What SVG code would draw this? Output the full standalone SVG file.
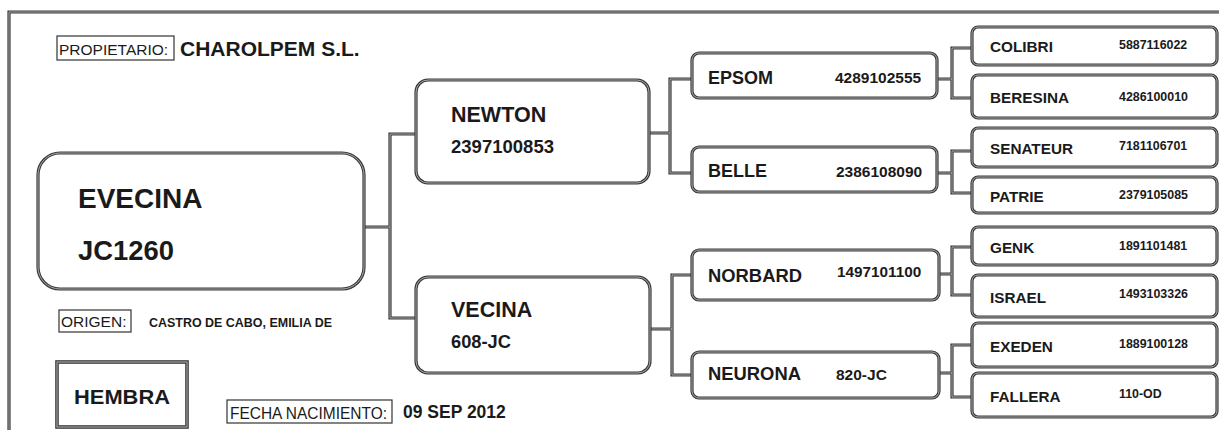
<svg xmlns="http://www.w3.org/2000/svg" xmlns:xlink="http://www.w3.org/1999/xlink" width="1219" height="430" viewBox="0 0 1219 430">
<style>
text{font-family:"Liberation Sans",Arial,sans-serif;fill:#1a1a1a}
.b{font-weight:bold}
.o{fill:#fff;stroke:#3a3a3a;stroke-width:3.2}
.i{fill:none;stroke:#b5b5b5;stroke-width:0.9}
.lab{fill:#fff;stroke:#333;stroke-width:1.2}
</style>
<defs>
<g id="cl" fill="none">
<path d="M9,430 V12 H1219"/>
<path d="M364,227 H390 M416,134 H390 V318 H416"/>
<path d="M649,133 H670 M692,79 H670 V173 H692"/>
<path d="M650,329 H672 M692,275 H672 V375 H692"/>
<path d="M937,79 H952 M972,48 H952 V98 H972"/>
<path d="M937,173 H952 M972,151 H952 V193 H972"/>
<path d="M939,274 H952 M972,247 H952 V295 H972"/>
<path d="M939,373 H952 M972,345 H952 V397 H972"/>
</g>
</defs>
<rect width="1219" height="430" fill="#fff"/>
<g id="connectors">
<use xlink:href="#cl" stroke="#3a3a3a" stroke-width="3.2"/>
<use xlink:href="#cl" stroke="#b5b5b5" stroke-width="0.9"/>
</g>
<g id="propietario">
<rect class="lab" x="57" y="36" width="117" height="24"/>
<text x="59" y="55" font-size="15.5">PROPIETARIO:</text>
<text class="b" x="180" y="56" font-size="21">CHAROLPEM S.L.</text>
</g>
<g id="evecina">
<rect class="o" x="38" y="153" width="326" height="136" rx="22"/>
<rect class="i" x="38" y="153" width="326" height="136" rx="22"/>
<text class="b" x="78" y="208" font-size="28">EVECINA</text>
<text class="b" x="78" y="260" font-size="28" textLength="96" lengthAdjust="spacingAndGlyphs">JC1260</text>
</g>
<g id="origen">
<rect class="lab" x="59" y="310" width="72" height="22"/>
<text x="61" y="327" font-size="15.5">ORIGEN:</text>
<text class="b" x="149" y="327" font-size="12.5" textLength="183" lengthAdjust="spacingAndGlyphs">CASTRO DE CABO, EMILIA DE</text>
</g>
<g id="hembra">
<rect x="57" y="362" width="130" height="65" fill="#fff" stroke="#3a3a3a" stroke-width="3.6"/>
<rect x="57" y="362" width="130" height="65" fill="none" stroke="#b5b5b5" stroke-width="1"/>
<text class="b" x="74" y="404" font-size="21" textLength="96" lengthAdjust="spacingAndGlyphs">HEMBRA</text>
</g>
<g id="fecha">
<rect class="lab" x="227" y="400" width="165" height="23"/>
<text x="230" y="419" font-size="16" textLength="157" lengthAdjust="spacingAndGlyphs">FECHA NACIMIENTO:</text>
<text class="b" x="403" y="418" font-size="17.5">09 SEP 2012</text>
</g>
<g id="newton">
<rect class="o" x="416" y="80" width="233" height="103" rx="12"/>
<rect class="i" x="416" y="80" width="233" height="103" rx="12"/>
<text class="b" x="451" y="122" font-size="21.5">NEWTON</text>
<text class="b" x="451" y="153" font-size="17.5" textLength="103" lengthAdjust="spacingAndGlyphs">2397100853</text>
</g>
<g id="vecina">
<rect class="o" x="416" y="277" width="234" height="96" rx="12"/>
<rect class="i" x="416" y="277" width="234" height="96" rx="12"/>
<text class="b" x="451" y="317" font-size="21.5">VECINA</text>
<text class="b" x="451" y="348" font-size="17.5" textLength="60" lengthAdjust="spacingAndGlyphs">608-JC</text>
</g>
<g id="epsom">
<rect class="o" x="692" y="53" width="245" height="45" rx="7"/>
<rect class="i" x="692" y="53" width="245" height="45" rx="7"/>
<text class="b" x="708" y="84" font-size="18">EPSOM</text>
<text class="b" x="835" y="83" font-size="15.5">4289102555</text>
</g>
<g id="belle">
<rect class="o" x="692" y="147" width="245" height="45" rx="7"/>
<rect class="i" x="692" y="147" width="245" height="45" rx="7"/>
<text class="b" x="708" y="177" font-size="18">BELLE</text>
<text class="b" x="836" y="177" font-size="15.5">2386108090</text>
</g>
<g id="norbard">
<rect class="o" x="692" y="250" width="247" height="50" rx="7"/>
<rect class="i" x="692" y="250" width="247" height="50" rx="7"/>
<text class="b" x="708" y="282" font-size="18.4">NORBARD</text>
<text class="b" x="837" y="277" font-size="15.3">1497101100</text>
</g>
<g id="neurona">
<rect class="o" x="692" y="352" width="247" height="46" rx="7"/>
<rect class="i" x="692" y="352" width="247" height="46" rx="7"/>
<text class="b" x="708" y="380" font-size="18.4">NEURONA</text>
<text class="b" x="836" y="380" font-size="15.5">820-JC</text>
</g>
<g id="colibri">
<rect class="o" x="972" y="27" width="245" height="38" rx="6"/>
<rect class="i" x="972" y="27" width="245" height="38" rx="6"/>
<text class="b" x="990" y="52" font-size="15.3">COLIBRI</text>
<text class="b" x="1119" y="49" font-size="12.4">5887116022</text>
</g>
<g id="beresina">
<rect class="o" x="972" y="75" width="245" height="43" rx="6"/>
<rect class="i" x="972" y="75" width="245" height="43" rx="6"/>
<text class="b" x="990" y="103" font-size="15.3">BERESINA</text>
<text class="b" x="1119" y="101" font-size="12.4">4286100010</text>
</g>
<g id="senateur">
<rect class="o" x="972" y="128" width="245" height="39" rx="6"/>
<rect class="i" x="972" y="128" width="245" height="39" rx="6"/>
<text class="b" x="990" y="154" font-size="15.3">SENATEUR</text>
<text class="b" x="1119" y="150" font-size="12.4">7181106701</text>
</g>
<g id="patrie">
<rect class="o" x="972" y="177" width="245" height="36" rx="6"/>
<rect class="i" x="972" y="177" width="245" height="36" rx="6"/>
<text class="b" x="990" y="202" font-size="15.3">PATRIE</text>
<text class="b" x="1119" y="199" font-size="12.4">2379105085</text>
</g>
<g id="genk">
<rect class="o" x="972" y="227" width="245" height="38" rx="6"/>
<rect class="i" x="972" y="227" width="245" height="38" rx="6"/>
<text class="b" x="990" y="253" font-size="15.3">GENK</text>
<text class="b" x="1119" y="250" font-size="12.4">1891101481</text>
</g>
<g id="israel">
<rect class="o" x="972" y="275" width="245" height="42" rx="6"/>
<rect class="i" x="972" y="275" width="245" height="42" rx="6"/>
<text class="b" x="990" y="303" font-size="15.3">ISRAEL</text>
<text class="b" x="1119" y="298" font-size="12.4">1493103326</text>
</g>
<g id="exeden">
<rect class="o" x="972" y="323" width="245" height="44" rx="6"/>
<rect class="i" x="972" y="323" width="245" height="44" rx="6"/>
<text class="b" x="990" y="352" font-size="15.3">EXEDEN</text>
<text class="b" x="1119" y="348" font-size="12.4">1889100128</text>
</g>
<g id="fallera">
<rect class="o" x="972" y="373" width="245" height="44" rx="6"/>
<rect class="i" x="972" y="373" width="245" height="44" rx="6"/>
<text class="b" x="990" y="402" font-size="15.3">FALLERA</text>
<text class="b" x="1119" y="398" font-size="12.4">110-OD</text>
</g>
</svg>
